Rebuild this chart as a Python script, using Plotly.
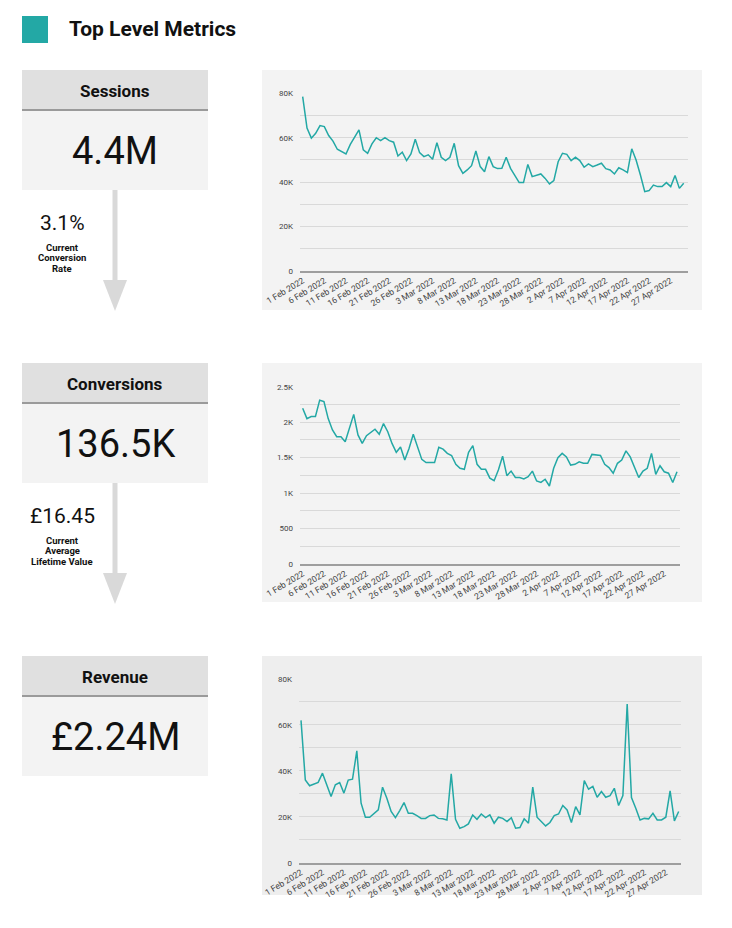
import pandas as pd
import plotly.graph_objects as go

# ---------------- data ----------------
dates = pd.date_range("2022-02-01", "2022-04-30", freq="D")

sessions = [78500, 64300, 59800, 62000, 65500, 65000, 61000, 58500, 54800, 53800,
            52700, 57000, 60000, 63500, 54500, 53000, 57200, 60000, 58700, 60000,
            58700, 58000, 51800, 53500, 49700, 52700, 59300, 53300, 51500, 52300,
            50300, 57800, 51200, 49700, 51200, 57500, 47400, 44000, 45500, 47400,
            54000, 47000, 44700, 51500, 47000, 46100, 46200, 51200, 46200, 43200,
            39800, 39800, 48000, 42500, 43200, 43700, 41700, 39200, 40700, 49200,
            53000, 52500, 49700, 51200, 49700, 46700, 48200, 47000, 47700, 48500,
            46100, 45500, 43700, 46500, 45500, 44300, 55000, 50000, 43200, 35700,
            36200, 38700, 38000, 38000, 39800, 38000, 43000, 37200, 39500]

conversions = [2195, 2050, 2080, 2080, 2310, 2290, 2050, 1890, 1795, 1795,
               1725, 1935, 2110, 1820, 1700, 1810, 1850, 1900, 1830, 1980,
               1865, 1700, 1575, 1650, 1465, 1630, 1830, 1640, 1475, 1430,
               1430, 1430, 1645, 1620, 1560, 1530, 1405, 1350, 1335, 1575,
               1670, 1405, 1335, 1335, 1210, 1175, 1325, 1520, 1245, 1310,
               1220, 1220, 1200, 1230, 1310, 1170, 1150, 1195, 1100, 1350,
               1500, 1560, 1510, 1395, 1405, 1440, 1420, 1420, 1545, 1535,
               1530, 1405, 1360, 1280, 1420, 1465, 1595, 1510, 1370, 1220,
               1310, 1350, 1560, 1265, 1385, 1300, 1280, 1150, 1300]

revenue = [62000, 36000, 33500, 34200, 35000, 39000, 33500, 28800, 33900, 34900,
           30300, 36000, 36400, 48700, 25900, 19800, 19800, 21200, 23000, 32900,
           28100, 22300, 19600, 22700, 26200, 21500, 21500, 20500, 19300, 19300,
           20500, 20800, 19300, 19100, 18600, 38700, 18900, 15000, 15700, 16900,
           20800, 18900, 21200, 19600, 20800, 17200, 19800, 19300, 17900, 19600,
           15000, 15300, 19100, 17200, 32900, 19800, 17900, 16000, 17500, 20500,
           21200, 24900, 23000, 17500, 24400, 20800, 35800, 32000, 33200, 28500,
           31000, 28500, 29200, 32400, 24900, 29200, 69100, 28400, 23700, 18600,
           19300, 19100, 21500, 18600, 18600, 19800, 31300, 18200, 22300]

k_ticks = [0, 10000, 20000, 30000, 40000, 50000, 60000, 70000, 80000]
k_labels = ["0", "", "20K", "", "40K", "", "60K", "", "80K"]
c_ticks = [0, 250, 500, 750, 1000, 1250, 1500, 1750, 2000, 2250, 2500]
c_labels = ["0", "", "500", "", "1K", "", "1.5K", "", "2K", "", "2.5K"]

cards = [
    {"title": "Sessions", "value": "4.4M"},
    {"title": "Conversions", "value": "136.5K"},
    {"title": "Revenue", "value": "£2.24M"},
]
ratios = [
    {"value": "3.1%", "label": ["Current", "Conversion", "Rate"]},
    {"value": "£16.45", "label": ["Current", "Average", "Lifetime Value"]},
]

# ---------------- layout helpers ----------------
W, H = 732, 928
TEAL = "#23a8a5"
FONT = "Roboto"


def px(x):
    return x / W


def py(y):
    return 1 - y / H


fig = go.Figure()
shapes = []
annotations = []


def rect(x0, y0, x1, y1, color):
    shapes.append(dict(type="rect", xref="paper", yref="paper",
                       x0=px(x0), x1=px(x1), y0=py(y1), y1=py(y0),
                       fillcolor=color, line=dict(width=0), layer="below"))


def text(x, y, s, size, bold=False, color="#111111", xanchor="center"):
    annotations.append(dict(xref="paper", yref="paper", x=px(x), y=py(y),
                            text=("<b>%s</b>" % s) if bold else s,
                            showarrow=False, xanchor=xanchor, yanchor="middle",
                            font=dict(family=FONT, size=size, color=color)))


# title
rect(22, 16, 48, 43, TEAL)
text(67, 29, "Top Level Metrics", 21, bold=True, xanchor="left")

# cards
card_tops = [70, 363, 656]
for card, top in zip(cards, card_tops):
    rect(22, top, 208, top + 40, "#e0e0e0")
    rect(22, top + 40, 208, top + 120, "#f3f3f3")
    shapes.append(dict(type="line", xref="paper", yref="paper",
                       x0=px(22), x1=px(208), y0=py(top + 40), y1=py(top + 40),
                       line=dict(color="#9a9a9a", width=2)))
    text(115, top + 21, card["title"], 17, bold=True)
    text(115, top + 81, card["value"], 38)

# arrows + ratios
for r, top in zip(ratios, [190, 483]):
    rect(112.5, top, 117.5, top + 91, "#d9d9d9")
    x0, x1, yb, yt = px(103), px(127), py(top + 121), py(top + 90)
    shapes.append(dict(type="path", xref="paper", yref="paper",
                       path="M %f %f L %f %f L %f %f Z" % (x0, yt, x1, yt, (x0 + x1) / 2, yb),
                       fillcolor="#d9d9d9", line=dict(width=0), layer="below"))
    text(62, top + 33, r["value"], 21)
    for i, line in enumerate(r["label"]):
        text(62, top + 57 + 10.7 * i, line, 9.5, bold=True)

# chart backgrounds
rect(262, 70, 702, 310, "#f3f3f3")
rect(262, 363, 702, 602, "#f3f3f3")
rect(262, 656, 702, 895, "#eeeeee")

charts = [
    dict(y=sessions, xdom=(300, 688), ydom=(271, 93.3), yrange=(0, 80000),
         tv=k_ticks, tt=k_labels, xr=(-0.62, 0.99)),
    dict(y=conversions, xdom=(300, 680), ydom=(564, 386.7), yrange=(0, 2500),
         tv=c_ticks, tt=c_labels, xr=(-0.63, 0.7)),
    dict(y=revenue, xdom=(299, 681), ydom=(862.7, 679), yrange=(0, 80000),
         tv=k_ticks, tt=k_labels, xr=(-0.47, 0.54)),
]

layout_axes = {}
for i, c in enumerate(charts, start=1):
    xname = "x" if i == 1 else "x%d" % i
    yname = "y" if i == 1 else "y%d" % i
    fig.add_trace(go.Scatter(x=dates, y=c["y"], mode="lines", xaxis=xname, yaxis=yname,
                             line=dict(color=TEAL, width=1.5), hoverinfo="x+y",
                             showlegend=False))
    start = dates[0] + pd.Timedelta(days=c["xr"][0])
    end = dates[-1] + pd.Timedelta(days=c["xr"][1])
    layout_axes["xaxis" if i == 1 else "xaxis%d" % i] = dict(
        type="date", domain=[px(c["xdom"][0]), px(c["xdom"][1])],
        anchor=yname, range=[start, end], tick0="2022-02-01", dtick=5 * 86400000,
        tickformat="%-d %b %Y", tickangle=-31, showgrid=False, zeroline=False,
        showline=True, linecolor="#9e9e9e", linewidth=1.5, ticks="",
        tickfont=dict(family=FONT, size=8.5, color="#444444"), fixedrange=True,
        automargin=False)
    layout_axes["yaxis" if i == 1 else "yaxis%d" % i] = dict(
        domain=[py(c["ydom"][0]), py(c["ydom"][1])], anchor=xname,
        range=list(c["yrange"]), tickmode="array", tickvals=c["tv"], ticktext=c["tt"],
        showgrid=True, gridcolor="#d9d9d9", gridwidth=1.2, zeroline=False,
        showline=False, ticks="", ticklabelstandoff=6,
        tickfont=dict(family=FONT, size=8, color="#444444"), fixedrange=True,
        automargin=False)

fig.update_layout(width=W, height=H, margin=dict(l=0, r=0, t=0, b=0, autoexpand=False),
                  paper_bgcolor="white", plot_bgcolor="rgba(0,0,0,0)",
                  shapes=shapes, annotations=annotations, showlegend=False,
                  font=dict(family=FONT), **layout_axes)

fig.write_html("out.html", config={"displayModeBar": False},
               post_script="document.body.style.margin='0';")
